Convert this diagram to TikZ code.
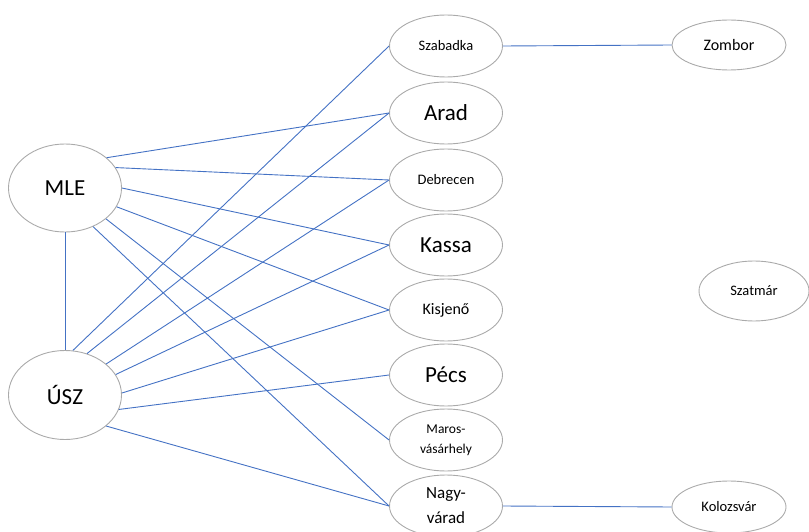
\documentclass[tikz,border=0pt]{standalone}
\usepackage{fontspec}
\setmainfont{Carlito}
\usepackage{tikz}
\usetikzlibrary{shapes.geometric}
\definecolor{linkblue}{RGB}{68,114,196}
\definecolor{rimgray}{RGB}{170,170,170}

\begin{document}
\begin{tikzpicture}[x=1pt,y=-1pt,
    town/.style={ellipse,draw=rimgray,line width=0.9pt,inner sep=0pt,
        minimum width=113pt,minimum height=62pt,align=center},
    big/.style={font=\fontsize{23}{26}\selectfont},
    small/.style={font=\fontsize{14.5}{20}\selectfont},
    link/.style={draw=linkblue,line width=0.9pt}]
    \useasboundingbox (0,0) rectangle (809,532);

    % left pair
    \node[town,big,minimum height=88pt] (mle) at (65,188) {MLE};
    \node[town,big,minimum height=89pt] (usz) at (65,395) {ÚSZ};

    % middle column
    \node[town,small] (szabadka) at (446,46) {Szabadka};
    \node[town,big] (arad) at (446,113) {Arad};
    \node[town,small] (debrecen) at (446,180) {Debrecen};
    \node[town,big] (kassa) at (446,245) {Kassa};
    \node[town,small,font=\fontsize{16}{20}\selectfont] (kisjeno) at (446,310) {Kisjenő};
    \node[town,big] (pecs) at (446,375) {Pécs};
    \node[town,font=\fontsize{13.5}{20}\selectfont] (maros) at (446,440) {Maros-\\vásárhely};
    \node[town,font=\fontsize{17}{25}\selectfont] (nagyvarad) at (446,506) {Nagy-\\várad};

    % right column
    \node[town,small,font=\fontsize{16}{20}\selectfont,minimum width=114pt,minimum height=50pt] (zombor) at (729,45) {Zombor};
    \node[town,small,minimum width=110pt,minimum height=60pt] (szatmar) at (754,291) {Szatmár};
    \node[town,small,minimum width=114pt,minimum height=52pt] (kolozsvar) at (729,507) {Kolozsvár};

    \draw[link] (mle.south) -- (usz.north);
    \foreach \a/\t in {36/arad,22/debrecen,0/kassa,-20/kisjeno,-37/maros,-54/nagyvarad}
        \draw[link] (mle.\a) -- (\t.west);
    \foreach \a/\t in {80/szabadka,62/arad,37/debrecen,22/kassa,2/kisjeno,-15/pecs,-37/nagyvarad}
        \draw[link] (usz.\a) -- (\t.west);
    \draw[link] (szabadka.east) -- (zombor.west);
    \draw[link] (nagyvarad.east) -- (kolozsvar.west);
\end{tikzpicture}
\end{document}
